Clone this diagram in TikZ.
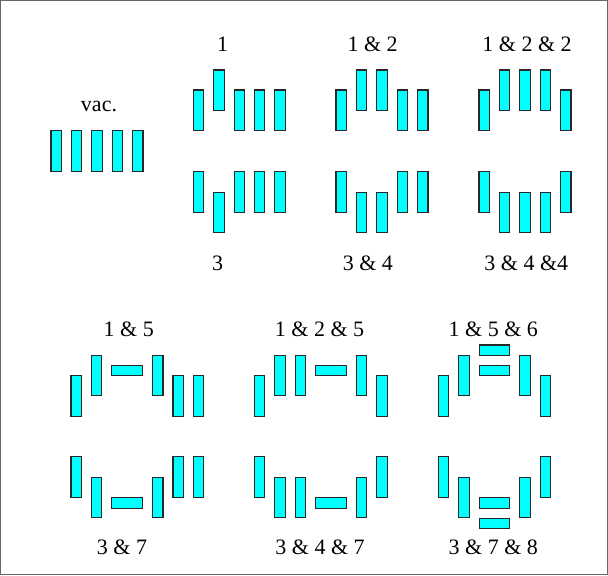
\documentclass[tikz,border=0pt]{standalone}
\usepackage{fontspec}
\setmainfont{Liberation Serif}
\definecolor{barcyan}{RGB}{0,255,255}
\definecolor{baredge}{RGB}{40,40,40}
\newcommand\mkvbars[2]{\foreach \k/\t in {#2} \draw[bar] ({#1+\k*20.4},\t) rectangle ++(10.4,40.6);}
\newcommand\mkhbar[3]{\draw[bar] ({#1+#2*20.4},#3) rectangle ++(30.8,10.4);}
\begin{document}
\begin{tikzpicture}[x=0.5pt,y=-0.5pt,
  bar/.style={draw=baredge,fill=barcyan,line width=0.55pt},
  lbl/.style={anchor=base,inner sep=0pt,font=\fontsize{11}{13}\selectfont}]
\useasboundingbox (0,0) rectangle (608,575);
\draw[black!60,line width=0.5pt] (0.5,0.5) rectangle (607.5,574.5);
% vacuum
\mkvbars{51}{0/130.7,1/130.7,2/130.7,3/130.7,4/130.7}
\node[lbl] (lvac) at (99,111.7) {vac.};
% row 1
\mkvbars{193.3}{0/90,1/70,2/90,3/90,4/90}
\node[lbl] (l1) at (222.5,51.7) {1};
\mkvbars{336}{0/90,1/70,2/70,3/90,4/90}
\node[lbl] (l12) at (372.6,51.7) {1 \& 2};
\mkvbars{479}{0/90,1/70,2/70,3/70,4/90}
\node[lbl] (l122) at (527,51.7) {1 \& 2 \& 2};
% row 2
\mkvbars{193.3}{0/171.7,1/192.3,2/171.7,3/171.7,4/171.7}
\node[lbl] (l3) at (217.7,270) {3};
\mkvbars{336}{0/171.7,1/192.3,2/192.3,3/171.7,4/171.7}
\node[lbl] (l34) at (367.8,270) {3 \& 4};
\mkvbars{479}{0/171.7,1/192.3,2/192.3,3/192.3,4/171.7}
\node[lbl] (l344) at (526.3,270) {3 \& 4 \&4};
% row 3
\mkvbars{71}{0/375.7,1/355.3,4/355.3,5/375.7,6/375.7}
\mkhbar{71}{2}{365.3}
\node[lbl] (l15) at (128.8,336.7) {1 \& 5};
\mkvbars{254.3}{0/375.7,1/355.3,2/355.3,5/355.3,6/375.7}
\mkhbar{254.3}{3}{365.3}
\node[lbl] (l125) at (319.5,336.7) {1 \& 2 \& 5};
\mkvbars{438.3}{0/375.7,1/355.3,4/355.3,5/375.7}
\mkhbar{438.3}{2}{345}
\mkhbar{438.3}{2}{365.3}
\node[lbl] (l156) at (493.3,336.7) {1 \& 5 \& 6};
% row 4
\mkvbars{71}{0/456.7,1/477.3,4/477.3,5/456.7,6/456.7}
\mkhbar{71}{2}{497.7}
\node[lbl] (l37) at (122,554.3) {3 \& 7};
\mkvbars{254.3}{0/456.7,1/477.3,2/477.3,5/477.3,6/456.7}
\mkhbar{254.3}{3}{497.7}
\node[lbl] (l347) at (320,554.3) {3 \& 4 \& 7};
\mkvbars{438.3}{0/456.7,1/477.3,4/477.3,5/456.7}
\mkhbar{438.3}{2}{497.7}
\mkhbar{438.3}{2}{518.3}
\node[lbl] (l378) at (493.3,554.3) {3 \& 7 \& 8};
\end{tikzpicture}
\end{document}
